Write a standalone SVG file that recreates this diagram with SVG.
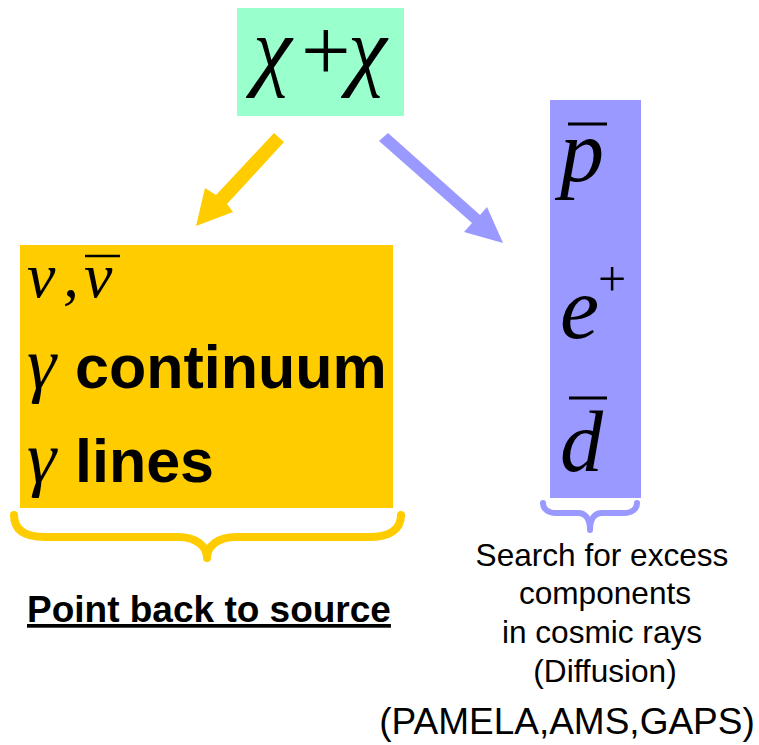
<svg xmlns="http://www.w3.org/2000/svg" width="759" height="745" viewBox="0 0 759 745">
<style>
.math{font-family:"Liberation Serif","Times New Roman",serif;font-style:italic;fill:#000}
.rom{font-family:"Liberation Serif","Times New Roman",serif;fill:#000}
.bold{font-family:"Liberation Sans",Arial,sans-serif;font-weight:bold;fill:#000}
.reg{font-family:"Liberation Sans",Arial,sans-serif;fill:#000}
.bar{stroke:#000;fill:none}
</style>
<rect width="759" height="745" fill="#fff"/>
<g id="annihilation">
<rect x="237" y="8" width="167" height="108" fill="#99FFCC"/>
<text class="math" x="253" y="79" font-size="88">χ</text>
<text class="rom" x="301" y="80" font-size="88">+</text>
<text class="math" x="348" y="79" font-size="88">χ</text>
</g>
<g id="connectors">
<polygon points="274,133 284,142 227,204 233,212 196,226 205,188 216,195" fill="#FFCC00"/>
<polygon points="388,133 480,215 487,207 503,243 464,232 472,223 379,141" fill="#9999FF"/>
</g>
<g id="source-box">
<rect x="20" y="245" width="373" height="263" fill="#FFCC00"/>
<text class="math" x="27" y="297" font-size="64">ν</text>
<text class="math" x="63" y="297" font-size="64">,</text>
<text class="math" x="84" y="297" font-size="64">ν</text>
<line class="bar" x1="85" y1="256" x2="120" y2="256" stroke-width="2.5"/>
<text class="math" x="27" y="388" font-size="74">γ</text>
<text class="bold" x="75" y="388" font-size="61">continuum</text>
<text class="math" x="27" y="482" font-size="74">γ</text>
<text class="bold" x="75" y="482" font-size="61">lines</text>
</g>
<g id="source-brace">
<path d="M14,515 C14,530 25,537 45,537 L178,537 C196,537 207,546 207,558 C207,546 218,537 236,537 L369,537 C389,537 401,530 401,515" fill="none" stroke="#FFCC00" stroke-width="8" stroke-linecap="round" stroke-linejoin="round"/>
<text class="bold" x="27" y="622" font-size="37" text-decoration="underline">Point back to source</text>
</g>
<g id="cosmic-box">
<rect x="550" y="100" width="91" height="398" fill="#9999FF"/>
<text class="math" x="560" y="181" font-size="88">p</text>
<line class="bar" x1="568" y1="124" x2="607" y2="124" stroke-width="3"/>
<text class="math" x="560" y="338" font-size="88">e</text>
<text class="rom" x="598" y="296" font-size="50">+</text>
<text class="math" x="560" y="471" font-size="86">d</text>
<line class="bar" x1="569" y1="398" x2="607" y2="398" stroke-width="3"/>
</g>
<g id="cosmic-brace">
<path d="M543,503 C543,509 548,513 556,513 L578,513 C585,513 590,518 590,530 C590,518 595,513 602,513 L624,513 C632,513 637,509 637,503" fill="none" stroke="#9999FF" stroke-width="6" stroke-linecap="round" stroke-linejoin="round"/>
<g class="reg" font-size="31.6" text-anchor="middle">
<text x="602" y="566">Search for excess</text>
<text x="605" y="604">components</text>
<text x="602" y="643">in cosmic rays</text>
<text x="605" y="682">(Diffusion)</text>
</g>
<text class="reg" x="567" y="734" font-size="37" text-anchor="middle">(PAMELA,AMS,GAPS)</text>
</g>
</svg>
